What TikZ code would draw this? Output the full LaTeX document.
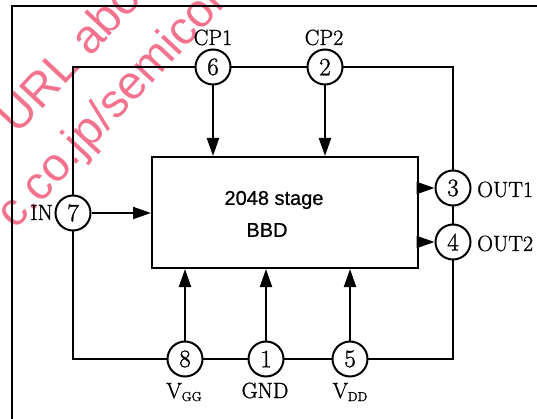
\documentclass[tikz,border=0pt]{standalone}
\usepackage{fontspec}
\newfontfamily\wmfont{Liberation Sans}
\newfontfamily\blkfont{Liberation Sans}[FakeBold=0.8]
\newfontfamily\lblfont{Latin Modern Roman}[FakeBold=1.2]
\usetikzlibrary{arrows.meta}
\definecolor{wmpink}{RGB}{243,115,143}
\tikzset{
  pinc/.style={circle, draw, fill=white, line width=2pt, minimum size=35pt, inner sep=0pt,
    font=\lblfont\fontsize{25}{25}\selectfont},
  lbl/.style={inner sep=0pt, font=\lblfont\fontsize{22}{24}\selectfont},
  arr/.style={line width=2pt, -{Triangle[length=18pt,width=12pt]}},
  wire/.style={line width=2pt},
  wm/.style={inner sep=0pt, text=wmpink, font=\wmfont\fontsize{47}{47}\selectfont, rotate=47, anchor=base west}
}
\begin{document}
\begin{tikzpicture}[x=1pt,y=-1pt]
\useasboundingbox (0,0) rectangle (537,419);
% watermark
\begin{scope}
\clip (0,0) rectangle (537,419);
\node[wm] (wm1) at (17,136) {URL about};
\node[wm] (wm2) at (15,231) {c.co.jp/semicon};
\end{scope}
% outer frame
\draw[line width=1.3pt] (12,419) -- (12,6) -- (537,6);
% loop
\draw[wire] (73,67) rectangle (453,359);
% block
\node[draw, line width=2pt, minimum width=266pt, minimum height=111pt, inner sep=0pt] (blk) at (285,212.5) {};
\node[inner sep=0pt, font=\blkfont\fontsize{20}{24}\selectfont] (t1) at (274,200) {2048 stage};
\node[inner sep=0pt, font=\blkfont\fontsize{20}{24}\selectfont] (t2) at (267,230) {BBD};
% pins
\node[pinc] (p6) at (213,67) {6};
\node[pinc] (p2) at (325,67) {2};
\node[pinc] (p7) at (73,213) {7};
\node[pinc] (p3) at (453,188) {3};
\node[pinc] (p4) at (453,242) {4};
\node[pinc] (p8) at (185,359) {8};
\node[pinc] (p1) at (266,359) {1};
\node[pinc] (p5) at (350,359) {5};
% labels
\node[lbl, anchor=base] (lcp1) at (213,45) {CP1};
\node[lbl, anchor=base] (lcp2) at (324,45) {CP2};
\node[lbl, anchor=base east] (lin) at (53,220) {IN};
\node[lbl, anchor=base west] (lo1) at (477,197) {OUT1};
\node[lbl, anchor=base west] (lo2) at (477,251) {OUT2};
\node[lbl, anchor=base] (lvgg) at (184,398) {V\raisebox{-3pt}{\fontsize{13}{13}\selectfont GG}};
\node[lbl, anchor=base] (lgnd) at (265,398) {GND};
\node[lbl, anchor=base] (lvdd) at (350,398) {V\raisebox{-3pt}{\fontsize{13}{13}\selectfont DD}};
% arrows
\draw[arr] (p6) -- (p6 |- blk.north);
\draw[arr] (p2) -- (p2 |- blk.north);
\draw[arr] (p7) -- (p7 -| blk.west);
\draw[arr] (p3 -| blk.east) -- (p3);
\draw[arr] (p4 -| blk.east) -- (p4);
\draw[arr] (p8) -- (p8 |- blk.south);
\draw[arr] (p1) -- (p1 |- blk.south);
\draw[arr] (p5) -- (p5 |- blk.south);
\end{tikzpicture}
\end{document}
